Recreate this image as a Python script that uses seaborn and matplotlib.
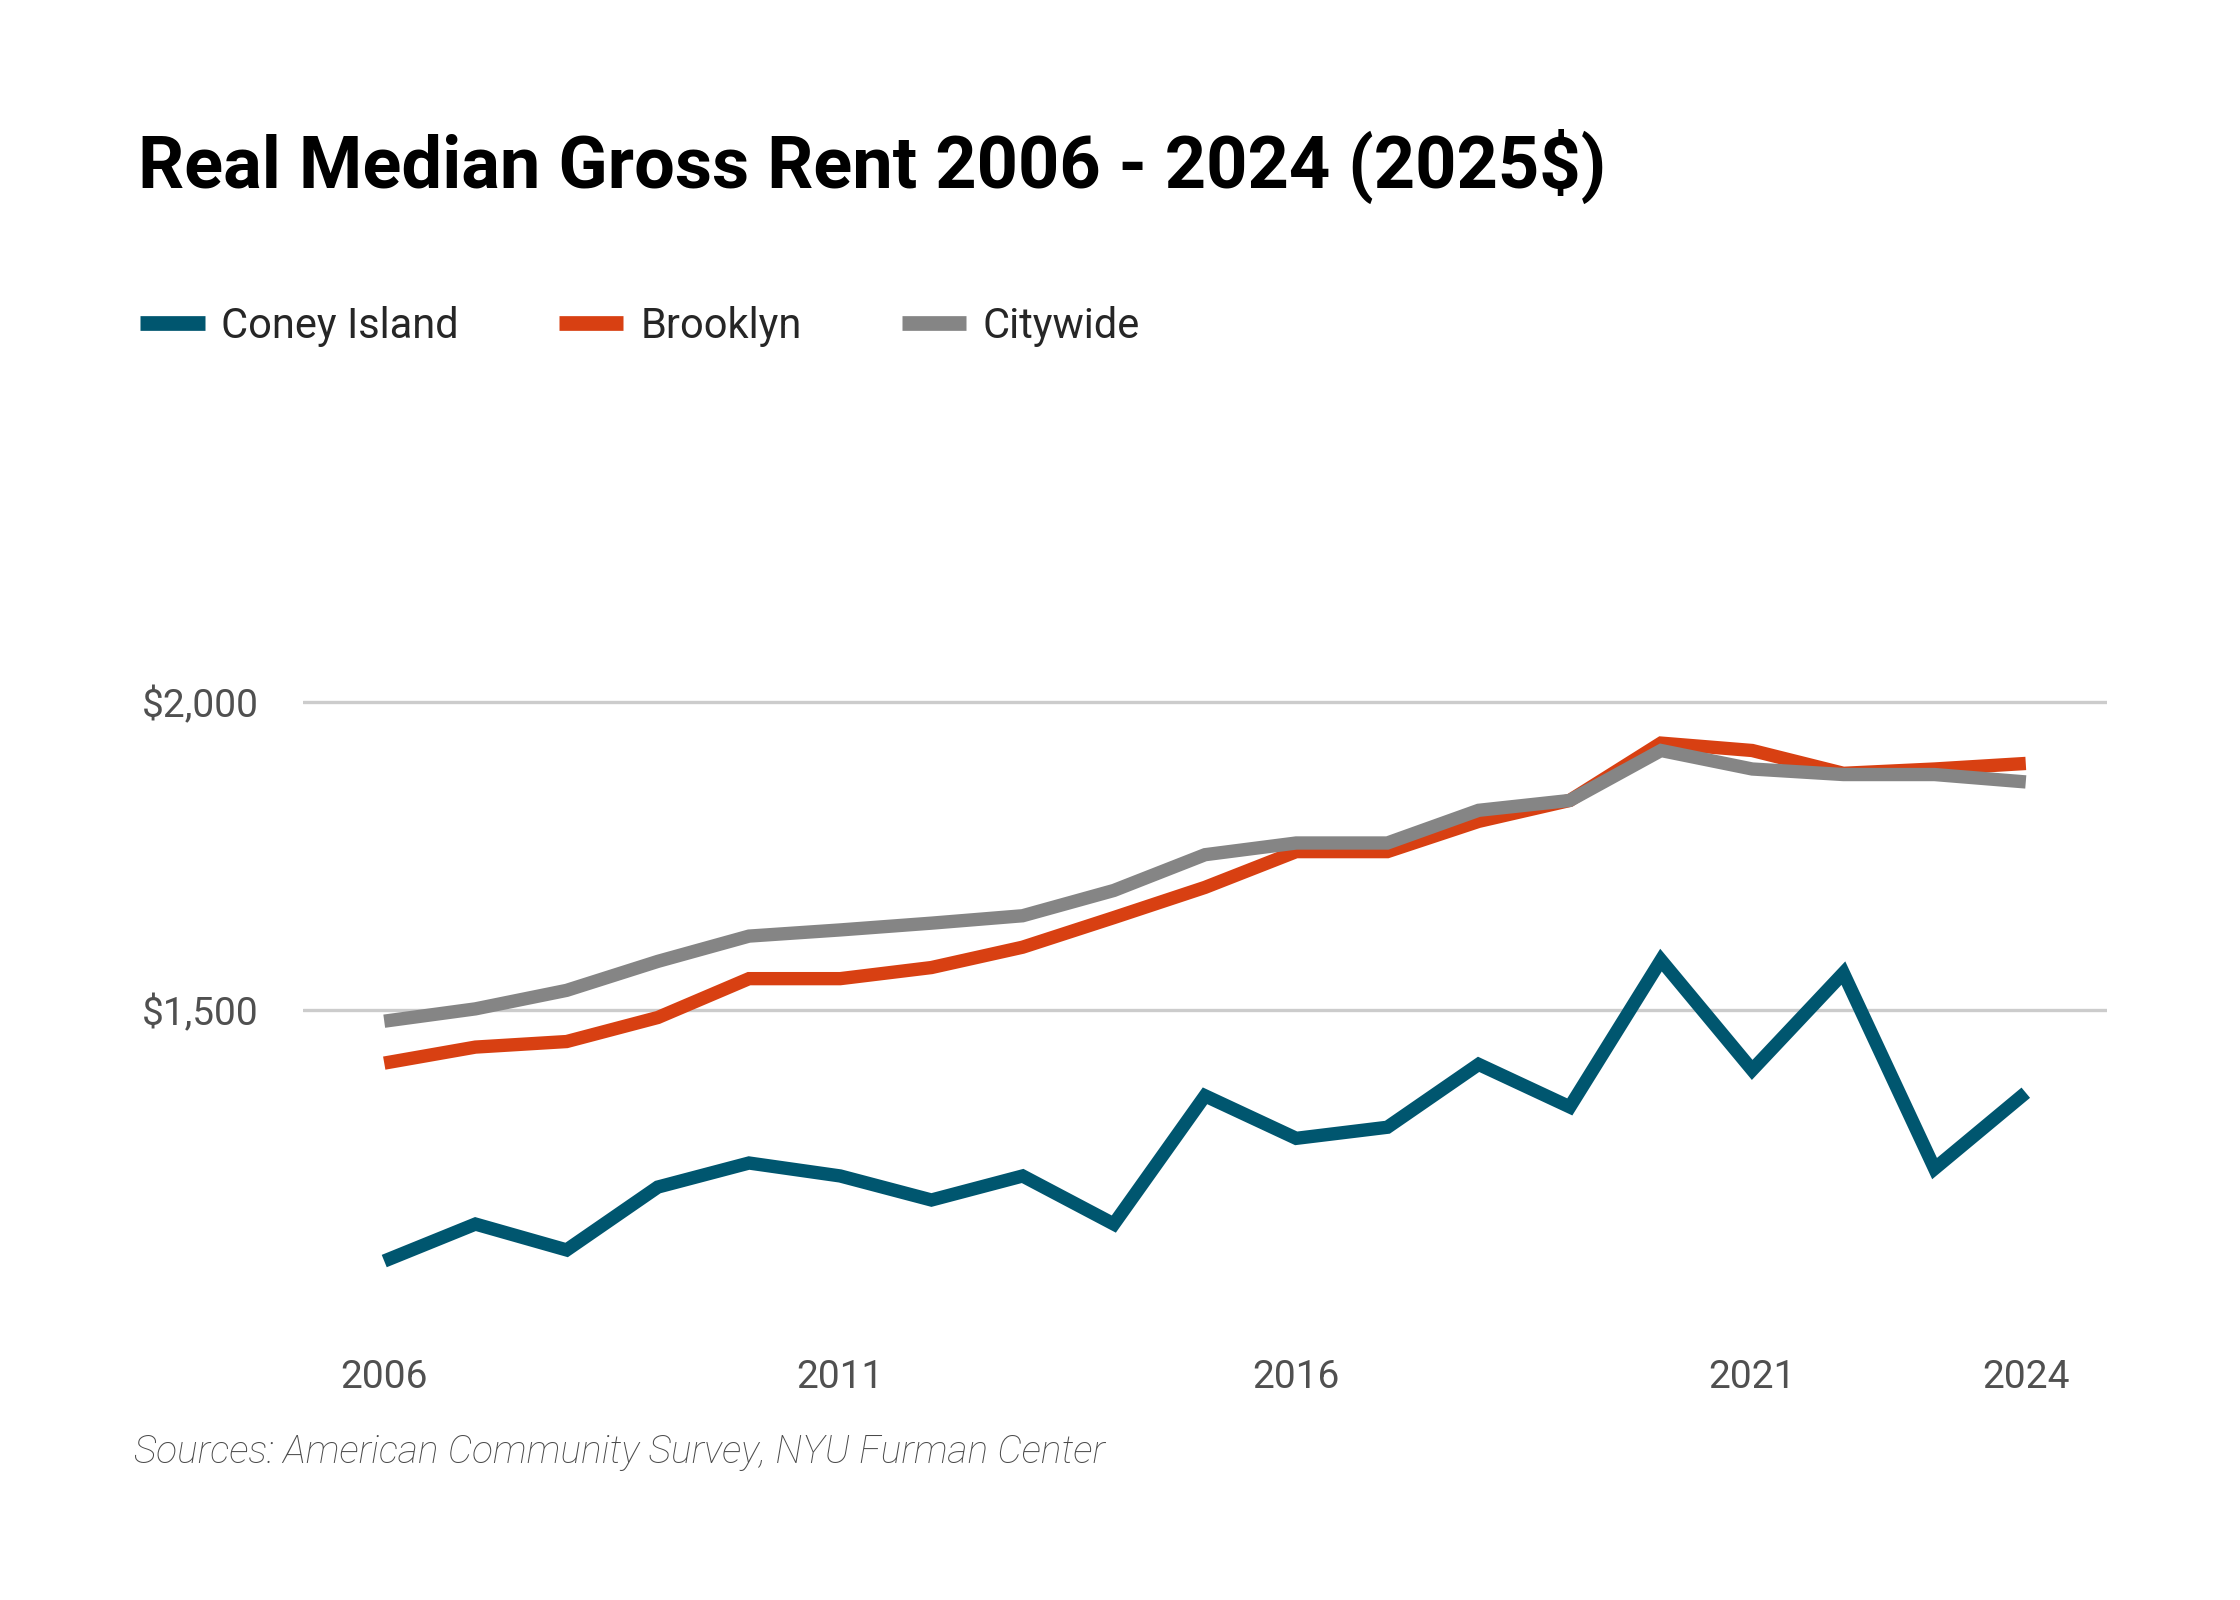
import pandas as pd
import seaborn as sns
from matplotlib import pyplot as plt

years = list(range(2006, 2025))
coney = [1093, 1153, 1111, 1213, 1252, 1231, 1192, 1231, 1153, 1361,
         1292, 1310, 1412, 1343, 1581, 1403, 1560, 1243, 1366]
brooklyn = [1414, 1440, 1449, 1488, 1551, 1551, 1569, 1602, 1650, 1699,
            1757, 1757, 1806, 1840, 1933, 1921, 1884, 1891, 1900]
citywide = [1482, 1502, 1532, 1579, 1620, 1630, 1641, 1653, 1694, 1752,
            1771, 1771, 1824, 1840, 1921, 1891, 1882, 1882, 1870]
series_names = ["Coney Island", "Brooklyn", "Citywide"]
colors = ["#00566f", "#d84012", "#858585"]
xticks = [2006, 2011, 2016, 2021, 2024]
yticks = [1500, 2000]

df = pd.DataFrame({"year": years * 3,
                   "rent": coney + brooklyn + citywide,
                   "area": [n for n in series_names for _ in years]})

sns.set_style("white")
plt.rcParams['font.family'] = ['Roboto', 'DejaVu Sans']

fig = plt.figure(figsize=(11.2, 8), dpi=200)
ax = fig.add_axes([0.1353, 0.176, 0.8053, 0.501])

sns.lineplot(data=df, x="year", y="rent", hue="area", hue_order=series_names,
             palette=colors, linewidth=4.8, ax=ax, legend=False)
for ln in ax.lines:
    ln.set_solid_capstyle("butt")
    ln.set_solid_joinstyle("miter")

ax.set_xlim(2005.11, 2024.89)
ax.set_ylim(1000, 2300)
ax.set_xticks(xticks)
ax.set_yticks(yticks)
ax.set_yticklabels([f"${v:,}" for v in yticks])
ax.grid(axis="y", color="#cccccc", linewidth=1.2)
ax.grid(axis="x", visible=False)
ax.set_axisbelow(True)
for s in ax.spines.values():
    s.set_visible(False)
ax.tick_params(axis="both", length=0, labelsize=14, colors="#505050")
ax.tick_params(axis="x", pad=14.5)
ax.tick_params(axis="y", pad=16)
ax.set_xlabel("")
ax.set_ylabel("")

fig.text(0.0616, 0.8825, "Real Median Gross Rent 2006 - 2024 (2025$)",
         fontsize=26, fontweight="bold", color="black", va="baseline")

handles = [plt.Line2D([], [], color=c, linewidth=5.3, solid_capstyle="butt") for c in colors]
fig.legend(handles, series_names, loc="center left", bbox_to_anchor=(0.0625, 0.796),
           ncol=3, frameon=False, fontsize=15, handlelength=1.55, borderpad=0,
           borderaxespad=0, handletextpad=0.4, columnspacing=2.4)

fig.text(0.06, 0.0856, "Sources: American Community Survey, NYU Furman Center",
         fontsize=14, fontstyle="italic", fontweight="light", color="#4a4a4a", va="baseline")

fig.savefig("out.png", dpi=200, facecolor="white")
